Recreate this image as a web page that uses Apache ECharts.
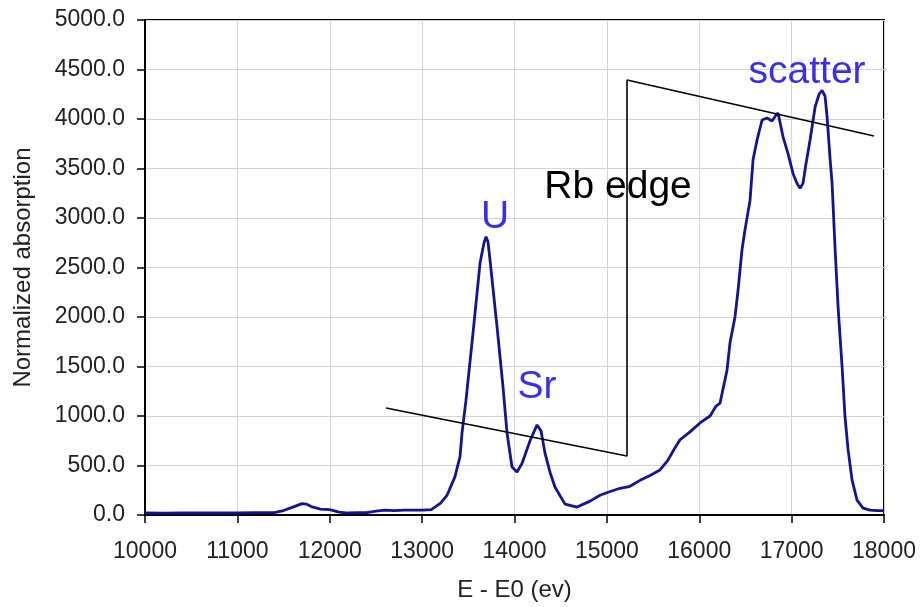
<!DOCTYPE html>
<html>
<head>
<meta charset="utf-8">
<script src="https://cdn.jsdelivr.net/npm/echarts@6/dist/echarts.min.js"></script>
<style>
html,body{margin:0;padding:0;background:#fff;}
#chart{width:922px;height:607px;}
</style>
</head>
<body>
<div id="chart"></div>
<script>
// Spectrum data (E - E0 in eV, normalized absorption)
const energy = [10000,10200,10400,10600,10800,11000,11200,11400,11500,11600,11700,11750,11800,11900,12000,12100,12200,12300,12400,12500,12600,12700,12800,12900,13000,13100,13200,13270,13355,13410,13432,13475,13551,13627,13648,13670,13692,13713,13735,13811,13876,13919,13973,14027,14081,14168,14244,14287,14330,14385,14439,14547,14677,14818,14926,15012,15142,15250,15359,15467,15575,15662,15738,15792,15900,16008,16117,16182,16225,16301,16333,16387,16420,16463,16495,16550,16582,16626,16680,16734,16788,16831,16853,16907,16961,17015,17058,17091,17123,17156,17200,17254,17297,17330,17362,17384,17416,17438,17470,17503,17546,17578,17611,17654,17708,17773,17849,17930,18000];
const absorption = [20,18,22,20,22,20,25,25,45,80,115,110,85,60,55,30,20,25,25,40,50,45,50,50,50,55,120,200,385,590,830,1160,1840,2545,2560,2750,2810,2760,2575,1900,1290,830,485,435,520,750,910,850,625,430,280,110,80,140,200,230,270,290,350,400,455,555,680,760,840,930,1000,1100,1130,1465,1740,2000,2270,2680,2880,3180,3585,3790,3990,4010,3980,4040,4060,3820,3650,3450,3350,3300,3350,3550,3790,4120,4250,4290,4230,4020,3600,3350,2700,2100,1500,990,660,355,150,70,50,45,45];

// Rb edge construction line
const edgeX = [12609,15218,15218,17892];
const edgeY = [1081,596,4394,3828];

// Annotations
const noteText = ['U','Sr','Rb edge','scatter'];
const noteX = [13789,14244,15121,17167];
const noteY = [3010,1293,3313,4474];
const noteColor = ['#3a2ee8','#3a2ee8','#000000','#3a2ee8'];

const xTicks = [10000,11000,12000,13000,14000,15000,16000,17000,18000];
const yTicks = [0,500,1000,1500,2000,2500,3000,3500,4000,4500,5000];

const chart = echarts.init(document.getElementById('chart'));
const font = 'Liberation Sans, Arial, sans-serif';
chart.setOption({
  animation:false,
  grid:{left:145,right:38,top:20,bottom:92,show:true,borderColor:'#000',borderWidth:2,
        containLabel:false,outerBoundsMode:'none'},
  xAxis:{
    type:'value',min:xTicks[0],max:xTicks[xTicks.length-1],interval:1000,
    name:'E - E0 (ev)',nameLocation:'middle',nameGap:63,
    nameTextStyle:{fontFamily:font,fontSize:24,color:'#222'},
    axisLine:{show:true,onZero:false,lineStyle:{color:'#000',width:2}},
    axisTick:{show:true,length:8,lineStyle:{color:'#000',width:1.5}},
    axisLabel:{fontFamily:font,fontSize:23,color:'#222',margin:25,formatter:v=>String(v)},
    splitLine:{show:true,lineStyle:{color:'#d4d4d4',width:1}}
  },
  yAxis:{
    type:'value',min:yTicks[0],max:yTicks[yTicks.length-1],interval:500,
    name:'Normalized absorption',nameLocation:'middle',nameGap:110,
    nameTextStyle:{fontFamily:font,fontSize:24,color:'#222'},
    axisLine:{show:true,lineStyle:{color:'#000',width:2}},
    axisTick:{show:true,length:8,lineStyle:{color:'#000',width:1.5}},
    axisLabel:{fontFamily:font,fontSize:23,color:'#222',margin:20,formatter:v=>v.toFixed(1)},
    splitLine:{show:true,lineStyle:{color:'#d4d4d4',width:1}}
  },
  series:[
    {type:'line',data:energy.map((e,i)=>[e,absorption[i]]),symbol:'none',
     lineStyle:{color:'#141490',width:2.8},z:3},
    {type:'line',data:edgeX.map((e,i)=>[e,edgeY[i]]),symbol:'none',
     lineStyle:{color:'#000',width:1.6},z:4},
    {type:'scatter',symbolSize:0,z:5,itemStyle:{opacity:1},
     data:noteText.map((t,i)=>({name:t,value:[noteX[i],noteY[i]],
       label:{color:noteColor[i]}})),
     label:{show:true,position:'inside',formatter:'{b}',fontFamily:font,fontSize:39,
            textBorderWidth:0,opacity:1}}
  ]
});
</script>
</body>
</html>
